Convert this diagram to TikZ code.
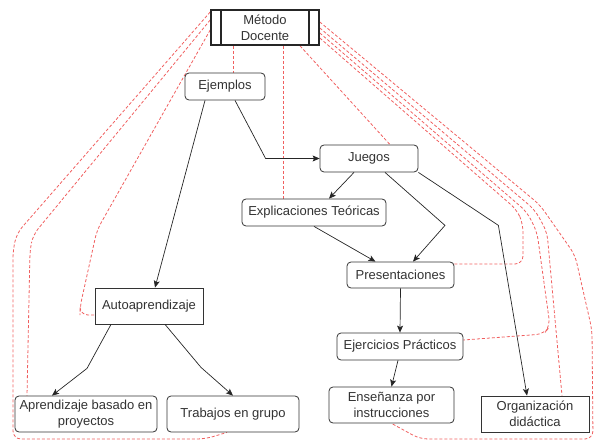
\documentclass[tikz,border=0pt]{standalone}
\usepackage{fontspec}
\setmainfont{Liberation Sans}
\usepackage{tikz}
\usetikzlibrary{arrows.meta, backgrounds}
\definecolor{linkred}{RGB}{240,95,95}

\begin{document}
\begin{tikzpicture}[
    x=1pt, y=-1pt,
    font=\fontsize{13}{16}\selectfont,
    box/.style={rectangle, rounded corners=4pt, draw=black!80, fill=white, line width=0.8pt, text=black!80, align=center, inner sep=0pt, minimum height=27pt},
    sharpbox/.style={box, rounded corners=0pt},
    mainbox/.style={rectangle, draw=black!85, fill=white, line width=1.6pt, text=black!80, align=center, inner sep=0pt, minimum width=108pt, minimum height=35pt},
    arrow/.style={-{Stealth[length=7pt, width=6pt, inset=1.5pt]}, line width=0.7pt, draw=black!85},
    link/.style={draw=linkred, dash pattern=on 3pt off 2pt, line width=0.8pt, rounded corners=8pt}
]
\useasboundingbox (0,0) rectangle (595,441);

\node[mainbox] (metodo) at (265,27.5) {M\'etodo\\Docente};
\draw[line width=1.6pt, draw=black!85] ([xshift=11pt]metodo.north west) -- ([xshift=11pt]metodo.south west);
\draw[line width=1.6pt, draw=black!85] ([xshift=-11pt]metodo.north east) -- ([xshift=-11pt]metodo.south east);

\node[box, minimum width=80pt] (ejemplos) at (225,86.5) {Ejemplos};
\node[box, minimum width=98pt] (juegos) at (369,158.5) {Juegos};
\node[box, minimum width=144pt] (explic) at (314,212.5) {Explicaciones Te\'oricas};
\node[box, minimum width=107pt, minimum height=26pt] (present) at (400.5,275) {Presentaciones};
\node[sharpbox, minimum width=108pt, minimum height=36pt] (autoap) at (149,306) {Autoaprendizaje};
\node[box, minimum width=126pt] (ejerc) at (400,346.5) {Ejercicios Pr\'acticos};
\node[box, minimum width=142pt, minimum height=36pt] (aprend) at (86,414) {Aprendizaje basado en\\proyectos};
\node[box, minimum width=132pt, minimum height=36pt] (trabajos) at (233,414) {Trabajos en grupo};
\node[box, minimum width=125pt, minimum height=36pt] (ensen) at (391.5,405) {Ense\~nanza por\\instrucciones};
\node[sharpbox, minimum width=108pt, minimum height=36pt] (organiz) at (535,414) {Organizaci\'on\\did\'actica};

\draw[arrow] ([xshift=-20pt]ejemplos.south) -- ([xshift=6pt]autoap.north);
\draw[arrow] ([xshift=10pt]ejemplos.south) -- ([xshift=-54pt]juegos.west) -- (juegos.west);
\draw[arrow] ([xshift=-15pt]juegos.south) -- ([xshift=15pt]explic.north);
\draw[arrow] ([xshift=16pt]juegos.south) -- ++(60,53) -- ([xshift=12.5pt]present.north);
\draw[arrow] (explic.south) -- ([xshift=-25pt]present.north);
\draw[arrow] (juegos.south east) -- ++(80,53) -- ([xshift=-8pt]organiz.north);
\draw[arrow] (present.south) -- (ejerc.north);
\draw[arrow] ([xshift=-2pt]ejerc.south) -- (ensen.north);
\draw[arrow] ([xshift=-38pt]autoap.south) -- ++(-24,44) -- ([xshift=-34pt]aprend.north);
\draw[arrow] ([xshift=16pt]autoap.south) -- ++(36,43) -- (trabajos.north);

% dashed links from the main node
\begin{scope}[on background layer]
\draw[link] ([xshift=-31.5pt]metodo.south) -- ([xshift=8.5pt]ejemplos.north);
\draw[link] ([xshift=18.5pt]metodo.south) -- ([xshift=-30.5pt]explic.north);
\draw[link] ([xshift=35pt]metodo.south) -- ([xshift=21pt]juegos.north);
\draw[link] ([yshift=-10.5pt]metodo.east) -- (517,210) -- (523,224) -- (523,264) -- ([yshift=11pt]present.east);
\draw[link] ([yshift=-5.5pt]metodo.east) -- (527,212) -- (537,232) -- (550,326) -- (544,334) -- ([yshift=6.5pt]ejerc.east);
\draw[link] ([yshift=-0.5pt]metodo.east) -- (535,210) -- (547,232) -- ([xshift=27pt]organiz.north);
\draw[link] ([yshift=5.5pt]metodo.east) -- (540,205) -- (575,255) -- (592,330) -- (593,439) -- (420,439) -- (ensen.south);
\draw[link] ([yshift=15.5pt]metodo.west) -- (17,233) -- (13,250) -- (13,439) -- (205,439) -- ([xshift=-6pt]trabajos.south);
\draw[link] ([yshift=7.5pt]metodo.west) -- (33,235) -- (30,250) -- ([xshift=-59pt]aprend.north);
\draw[link] ([yshift=-2.5pt]metodo.west) -- (97,230) -- (80,307) -- (80,315) -- ([yshift=-9pt]autoap.west);
\end{scope}

\end{tikzpicture}
\end{document}
